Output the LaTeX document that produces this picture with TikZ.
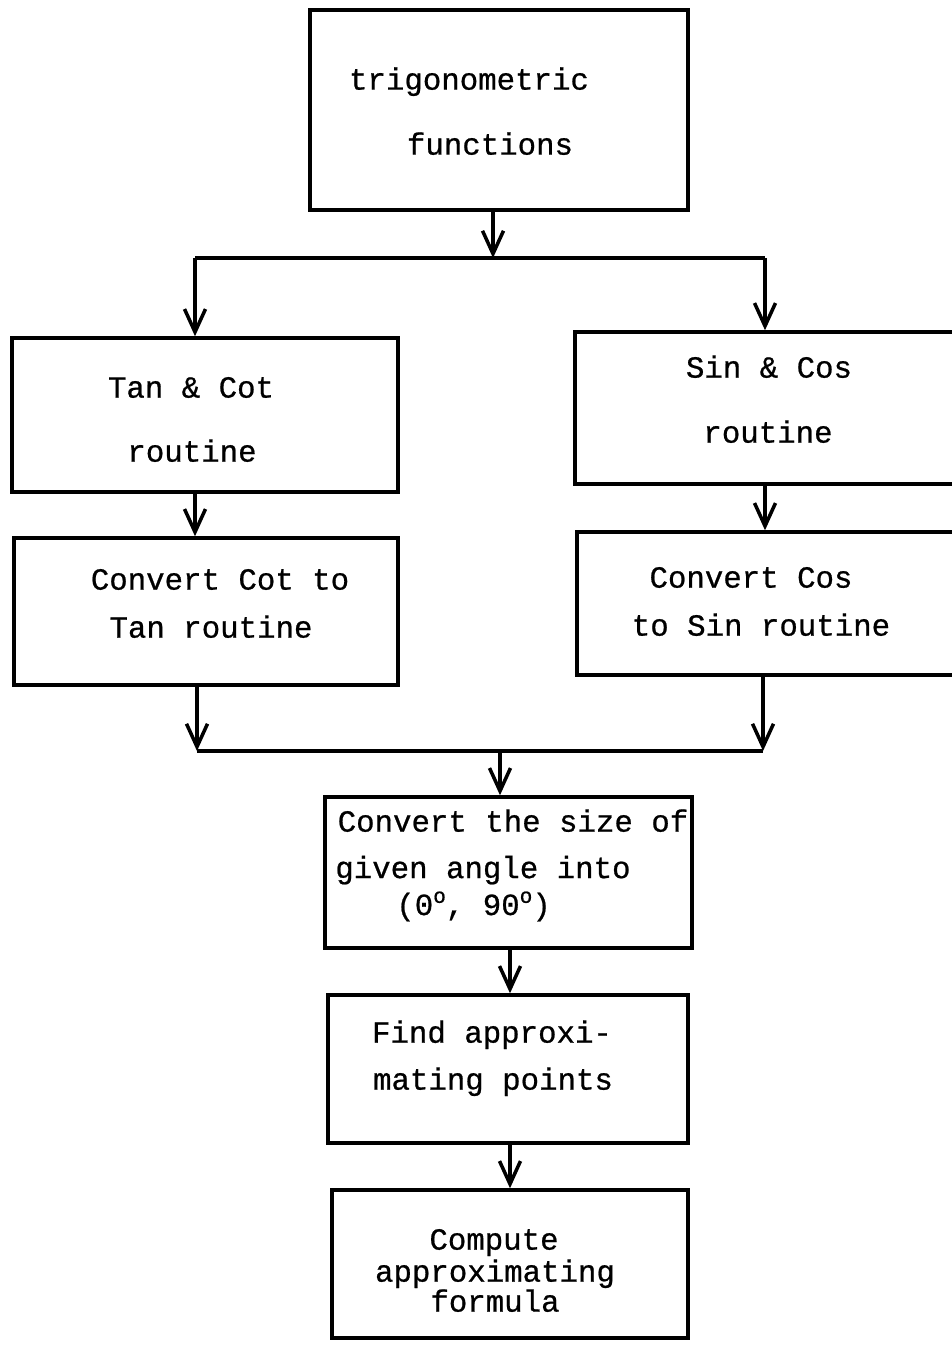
\documentclass[tikz,border=0pt]{standalone}
\usepackage{fontspec}
\setmainfont{Liberation Mono}[FakeBold=0.7]
\usetikzlibrary{arrows.meta}
\newcommand\twfont{\fontsize{17.5}{21}\selectfont}
\newcommand\dego{\raisebox{0.75ex}{\fontsize{12}{12}\selectfont o}}
\begin{document}
\begin{tikzpicture}[x=0.02cm,y=-0.02cm,
  box/.style={draw, line width=2pt, inner sep=0pt},
  lbl/.style={anchor=mid, inner sep=0pt, font=\twfont},
  flow/.style={line width=2pt, -{Straight Barb[length=0.46cm,width=0.42cm,line width=2pt]}},
  wire/.style={line width=2pt}]
\useasboundingbox (0,0) rectangle (951,1345);

% boxes
\node[box, minimum width=7.56cm, minimum height=4cm]    (trig) at (499,110) {};
\node[box, minimum width=7.72cm, minimum height=3.08cm] (tan)  at (205,415) {};
\node[box, minimum width=7.68cm, minimum height=2.94cm] (cot)  at (206,611.5) {};
\node[box, minimum width=7.6cm,  minimum height=3.04cm] (sin)  at (765,408) {};
\node[box, minimum width=7.56cm, minimum height=2.86cm] (cos)  at (766,603.5) {};
\node[box, minimum width=7.34cm, minimum height=3.02cm] (size) at (508.5,872.5) {};
\node[box, minimum width=7.2cm,  minimum height=2.96cm] (find) at (508,1069) {};
\node[box, minimum width=7.12cm, minimum height=2.96cm] (comp) at (510,1264) {};

% box texts
\node[lbl] (t1) at (469,85)  {trigonometric};
\node[lbl] (t2) at (490,150) {functions};
\node[lbl] (t3) at (191,393) {Tan \& Cot};
\node[lbl] (t4) at (192,457) {routine};
\node[lbl] (t5) at (220,585) {Convert Cot to};
\node[lbl] (t6) at (211,633) {Tan routine};
\node[lbl] (t7) at (769,373) {Sin \& Cos};
\node[lbl] (t8) at (768,438) {routine};
\node[lbl] (t9) at (751,583) {Convert Cos};
\node[lbl] (t10) at (761,631) {to Sin routine};
\node[lbl] (t11) at (513,827) {Convert the size of};
\node[anchor=base west, inner sep=0pt, align=left,
      font={\fontsize{17.5}{21}\selectfont\lineskiplimit=-40pt}] (t12) at (335,915)
  {given angle into\\\hspace*{1.22cm}(0\dego, 90\dego)};
\node[lbl] (t14) at (492,1038) {Find approxi-};
\node[lbl] (t15) at (493,1085) {mating points};
\node[lbl] (t16) at (494,1245) {Compute};
\node[lbl] (t17) at (495,1277) {approximating};
\node[lbl] (t18) at (495,1307) {formula};

% split below the first box
\coordinate (s)  at (493,258);
\coordinate (sl) at (195,258);
\coordinate (sr) at (765,258);
\draw[flow] (trig.south -| s) -- (s);
\draw[wire] (sl) -- (sr);
\draw[flow] (sl) -- (sl |- tan.north);
\draw[flow] (sr) -- (sr |- sin.north);

% the two routines
\draw[flow] (tan.south -| sl) -- (cot.north -| sl);
\draw[flow] (sin.south) -- (sin.south |- cos.north);

% merge
\coordinate (ml) at (197,751);
\coordinate (mr) at (763,751);
\coordinate (m)  at (500,751);
\draw[flow] (cot.south -| ml) -- (ml);
\draw[flow] (cos.south -| mr) -- (mr);
\draw[wire] (ml) -- (mr);
\draw[flow] (m) -- (m |- size.north);

% lower chain
\draw[flow] (size.south -| 510,0) -- (find.north -| 510,0);
\draw[flow] (find.south -| 510,0) -- (comp.north -| 510,0);
\end{tikzpicture}
\end{document}
